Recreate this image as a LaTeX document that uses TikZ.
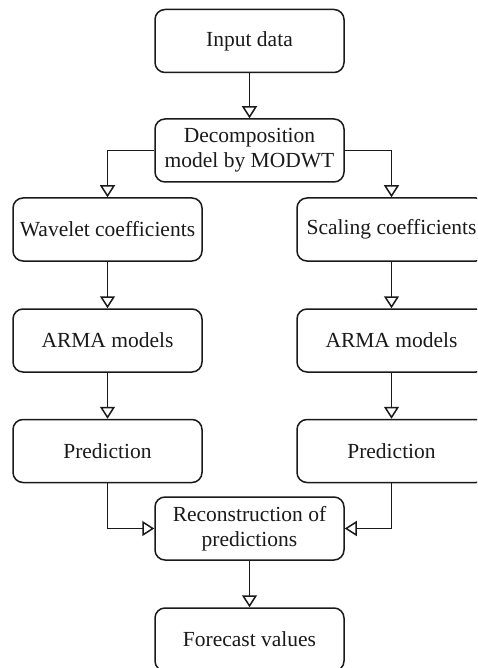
\documentclass[tikz,border=0pt]{standalone}
\usepackage{fontspec}
\setmainfont{Liberation Serif}
\usetikzlibrary{arrows.meta}
\definecolor{ink}{HTML}{1A1A1A}
\begin{document}
\begin{tikzpicture}[x=1pt,y=-1pt,
  box/.style={draw=ink, line width=1.5pt, rounded corners=10pt, minimum width=189pt, minimum height=63pt, inner sep=0pt, align=center, text=ink, font=\fontsize{21.5}{25}\selectfont},
  conn/.style={draw=ink, line width=1.5pt, -{Triangle[open, length=12pt, width=15pt, line width=1.5pt, fill=white]}}]
\clip (0,0) rectangle (477,668);
\fill[white] (0,0) rectangle (477,668);
\node[box] (inp) at (249.5,41) {Input data};
\node[box] (dec) at (249.5,150.5) {Decomposition\\model by MODWT};
\node[box] (wav) at (107.5,229.5) {Wavelet coefficients};
\node[box] (sca) at (391.5,229.5) {Scaling coefficients};
\node[box] (arl) at (107.5,340.5) {ARMA models};
\node[box] (arr) at (391.5,340.5) {ARMA models};
\node[box] (prl) at (107.5,451) {Prediction};
\node[box] (prr) at (391.5,451) {Prediction};
\node[box] (rec) at (249.5,528.5) {Reconstruction of\\predictions};
\node[box] (fc) at (249.5,639.5) {Forecast values};
\draw[conn] (inp) -- (dec);
\draw[conn] (dec.west) -| (wav.north);
\draw[conn] (dec.east) -| (sca.north);
\draw[conn] (wav) -- (arl);
\draw[conn] (sca) -- (arr);
\draw[conn] (arl) -- (prl);
\draw[conn] (arr) -- (prr);
\draw[conn] (prl.south) |- (rec.west);
\draw[conn] (prr.south) |- (rec.east);
\draw[conn] (rec.south) -- (fc.north);
\end{tikzpicture}
\end{document}
